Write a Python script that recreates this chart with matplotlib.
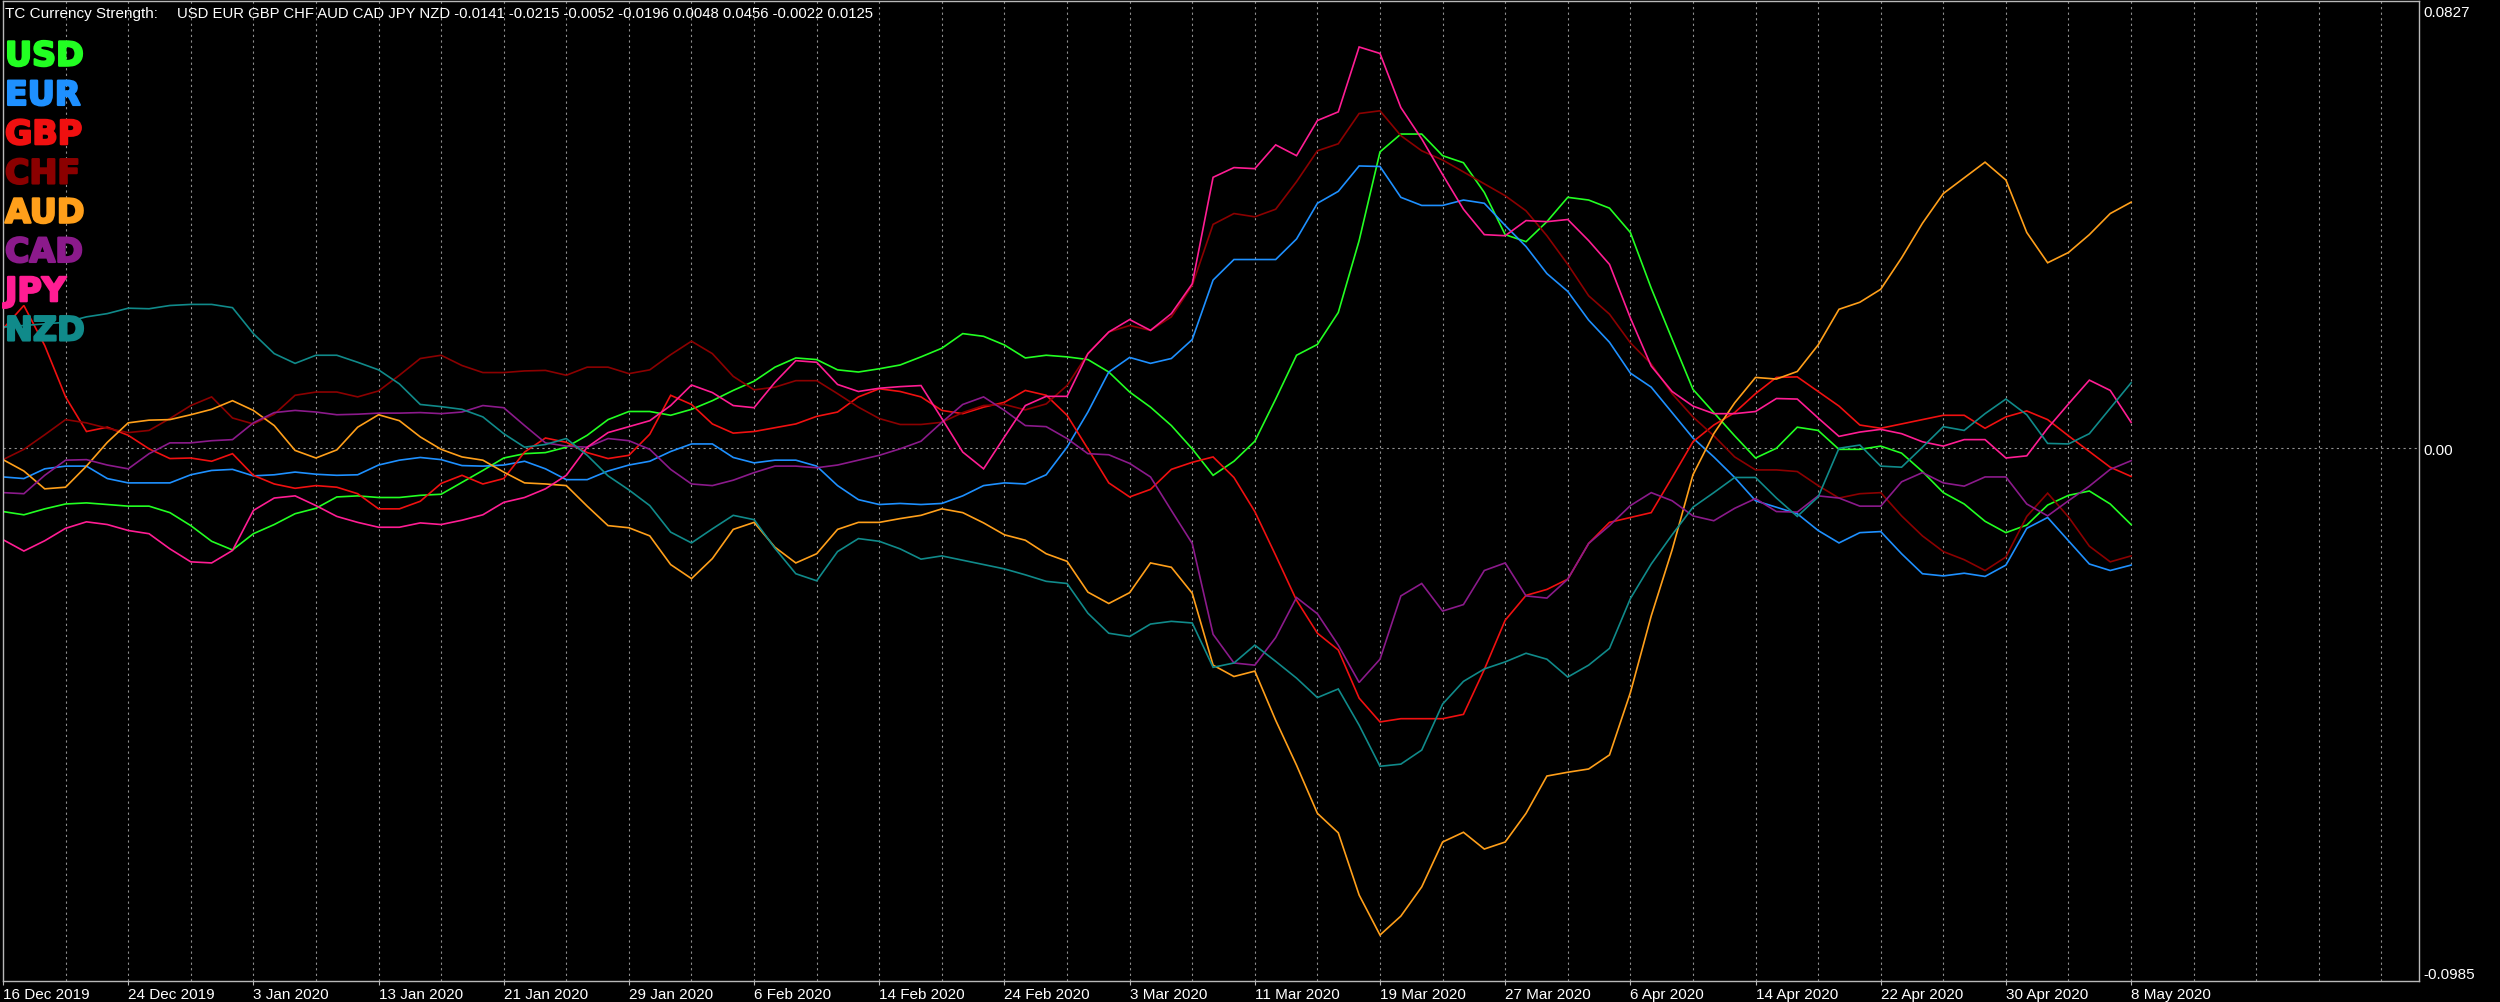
import numpy as np
import matplotlib.pyplot as plt
import matplotlib.patheffects as pe
from matplotlib.transforms import ScaledTranslation

# daily bars, 16 Dec 2019 .. 8 May 2020 (103 bars), label every 6th bar
date_labels = ["16 Dec 2019", "24 Dec 2019", "3 Jan 2020", "13 Jan 2020", "21 Jan 2020",
               "29 Jan 2020", "6 Feb 2020", "14 Feb 2020", "24 Feb 2020", "3 Mar 2020",
               "11 Mar 2020", "19 Mar 2020", "27 Mar 2020", "6 Apr 2020", "14 Apr 2020",
               "22 Apr 2020", "30 Apr 2020", "8 May 2020"]

currencies = ["USD", "EUR", "GBP", "CHF", "AUD", "CAD", "JPY", "NZD"]
colors = ["#22ff22", "#1e90ff", "#f01010", "#8b0000", "#ff9f1a", "#8b1a8b", "#ff1d93", "#108a8a"]

usd = [-0.0117, -0.0123, -0.0112, -0.0103, -0.0101, -0.0104, -0.0107, -0.0107, -0.0119, -0.0143,
       -0.0172, -0.0188, -0.0158, -0.0141, -0.0121, -0.0111, -0.0090, -0.0088, -0.0091, -0.0091,
       -0.0087, -0.0085, -0.0063, -0.0041, -0.0018, -0.0010, -0.0008, 0.0002, 0.0024, 0.0053,
       0.0068, 0.0068, 0.0061, 0.0072, 0.0088, 0.0107, 0.0124, 0.0150, 0.0167, 0.0164,
       0.0145, 0.0141, 0.0147, 0.0154, 0.0169, 0.0185, 0.0212, 0.0207, 0.0191, 0.0167,
       0.0172, 0.0169, 0.0164, 0.0141, 0.0104, 0.0076, 0.0042, -0.0001, -0.0050, -0.0024,
       0.0013, 0.0091, 0.0172, 0.0192, 0.0251, 0.0384, 0.0548, 0.0581, 0.0581, 0.0541,
       0.0528, 0.0473, 0.0395, 0.0382, 0.0419, 0.0464, 0.0459, 0.0444, 0.0399, 0.0296,
       0.0202, 0.0109, 0.0066, 0.0023, -0.0018, 0.0000, 0.0039, 0.0033, -0.0002, -0.0002,
       0.0004, -0.0009, -0.0043, -0.0082, -0.0103, -0.0135, -0.0156, -0.0142, -0.0105, -0.0087,
       -0.0079, -0.0103, -0.0141]

eur = [-0.0053, -0.0056, -0.0038, -0.0033, -0.0033, -0.0056, -0.0064, -0.0064, -0.0064, -0.0049,
       -0.0041, -0.0039, -0.0051, -0.0049, -0.0044, -0.0048, -0.0050, -0.0049, -0.0031, -0.0022,
       -0.0017, -0.0021, -0.0032, -0.0033, -0.0031, -0.0024, -0.0038, -0.0058, -0.0058, -0.0042,
       -0.0031, -0.0024, -0.0006, 0.0008, 0.0008, -0.0017, -0.0027, -0.0022, -0.0022, -0.0033,
       -0.0069, -0.0095, -0.0104, -0.0102, -0.0104, -0.0102, -0.0088, -0.0069, -0.0064, -0.0066,
       -0.0049, 0.0002, 0.0067, 0.0141, 0.0168, 0.0157, 0.0166, 0.0201, 0.0311, 0.0349,
       0.0349, 0.0349, 0.0387, 0.0453, 0.0475, 0.0522, 0.0521, 0.0464, 0.0449, 0.0449,
       0.0459, 0.0453, 0.0412, 0.0373, 0.0323, 0.0290, 0.0237, 0.0196, 0.0139, 0.0113,
       0.0066, 0.0019, -0.0016, -0.0054, -0.0097, -0.0109, -0.0121, -0.0152, -0.0175, -0.0156,
       -0.0154, -0.0195, -0.0232, -0.0236, -0.0231, -0.0237, -0.0216, -0.0148, -0.0128, -0.0171,
       -0.0214, -0.0226, -0.0216]

gbp = [0.0221, 0.0264, 0.0190, 0.0095, 0.0031, 0.0039, 0.0024, -0.0001, -0.0019, -0.0018,
       -0.0024, -0.0010, -0.0050, -0.0066, -0.0074, -0.0069, -0.0072, -0.0084, -0.0112, -0.0112,
       -0.0098, -0.0065, -0.0050, -0.0066, -0.0056, -0.0007, 0.0019, 0.0011, -0.0008, -0.0019,
       -0.0013, 0.0026, 0.0098, 0.0081, 0.0045, 0.0028, 0.0031, 0.0038, 0.0045, 0.0059,
       0.0067, 0.0095, 0.0110, 0.0105, 0.0095, 0.0070, 0.0064, 0.0076, 0.0085, 0.0107,
       0.0098, 0.0061, -0.0001, -0.0064, -0.0090, -0.0076, -0.0039, -0.0026, -0.0016, -0.0054,
       -0.0117, -0.0198, -0.0281, -0.0342, -0.0373, -0.0462, -0.0506, -0.0500, -0.0500, -0.0500,
       -0.0492, -0.0409, -0.0318, -0.0272, -0.0261, -0.0242, -0.0176, -0.0137, -0.0128, -0.0119,
       -0.0054, 0.0012, 0.0043, 0.0066, 0.0101, 0.0131, 0.0132, 0.0105, 0.0078, 0.0043,
       0.0037, 0.0045, 0.0053, 0.0061, 0.0061, 0.0037, 0.0058, 0.0069, 0.0053, 0.0023,
       -0.0006, -0.0035, -0.0052]

chf = [-0.0021, -0.0002, 0.0025, 0.0053, 0.0047, 0.0037, 0.0029, 0.0033, 0.0055, 0.0079,
       0.0095, 0.0056, 0.0045, 0.0063, 0.0098, 0.0104, 0.0104, 0.0095, 0.0106, 0.0135,
       0.0166, 0.0172, 0.0153, 0.0140, 0.0140, 0.0143, 0.0144, 0.0135, 0.0150, 0.0150,
       0.0138, 0.0145, 0.0173, 0.0198, 0.0175, 0.0133, 0.0108, 0.0113, 0.0125, 0.0125,
       0.0101, 0.0076, 0.0055, 0.0044, 0.0044, 0.0048, 0.0066, 0.0079, 0.0081, 0.0071,
       0.0082, 0.0116, 0.0175, 0.0215, 0.0227, 0.0218, 0.0243, 0.0301, 0.0414, 0.0434,
       0.0428, 0.0442, 0.0493, 0.0550, 0.0563, 0.0619, 0.0624, 0.0578, 0.0550, 0.0533,
       0.0511, 0.0489, 0.0467, 0.0439, 0.0393, 0.0340, 0.0282, 0.0248, 0.0195, 0.0156,
       0.0101, 0.0058, 0.0023, -0.0016, -0.0040, -0.0040, -0.0043, -0.0069, -0.0092, -0.0084,
       -0.0082, -0.0125, -0.0162, -0.0191, -0.0206, -0.0226, -0.0201, -0.0126, -0.0083, -0.0127,
       -0.0181, -0.0210, -0.0199]

aud = [-0.0021, -0.0042, -0.0075, -0.0072, -0.0033, 0.0011, 0.0047, 0.0052, 0.0053, 0.0062,
       0.0072, 0.0088, 0.0070, 0.0042, -0.0004, -0.0018, -0.0003, 0.0039, 0.0062, 0.0051,
       0.0021, -0.0002, -0.0016, -0.0022, -0.0044, -0.0064, -0.0066, -0.0069, -0.0107, -0.0143,
       -0.0147, -0.0162, -0.0215, -0.0241, -0.0204, -0.0150, -0.0137, -0.0183, -0.0212, -0.0195,
       -0.0150, -0.0137, -0.0137, -0.0130, -0.0124, -0.0112, -0.0119, -0.0138, -0.0160, -0.0170,
       -0.0195, -0.0209, -0.0266, -0.0287, -0.0267, -0.0212, -0.0220, -0.0268, -0.0401, -0.0422,
       -0.0412, -0.0503, -0.0586, -0.0675, -0.0711, -0.0826, -0.0900, -0.0865, -0.0811, -0.0728,
       -0.0710, -0.0741, -0.0728, -0.0675, -0.0606, -0.0599, -0.0593, -0.0567, -0.0452, -0.0310,
       -0.0188, -0.0049, 0.0027, 0.0084, 0.0131, 0.0128, 0.0142, 0.0191, 0.0257, 0.0270,
       0.0294, 0.0352, 0.0416, 0.0471, 0.0500, 0.0529, 0.0496, 0.0399, 0.0343, 0.0362,
       0.0395, 0.0434, 0.0455]

cad = [-0.0082, -0.0084, -0.0050, -0.0022, -0.0021, -0.0031, -0.0038, -0.0010, 0.0010, 0.0010,
       0.0014, 0.0016, 0.0047, 0.0066, 0.0070, 0.0067, 0.0062, 0.0063, 0.0065, 0.0065,
       0.0066, 0.0064, 0.0067, 0.0079, 0.0075, 0.0042, 0.0010, 0.0004, 0.0002, 0.0018,
       0.0014, -0.0002, -0.0039, -0.0066, -0.0069, -0.0059, -0.0045, -0.0033, -0.0033, -0.0036,
       -0.0031, -0.0022, -0.0013, -0.0001, 0.0013, 0.0048, 0.0081, 0.0095, 0.0070, 0.0042,
       0.0040, 0.0018, -0.0010, -0.0012, -0.0028, -0.0053, -0.0115, -0.0176, -0.0344, -0.0397,
       -0.0401, -0.0350, -0.0276, -0.0306, -0.0364, -0.0433, -0.0390, -0.0273, -0.0250, -0.0301,
       -0.0289, -0.0226, -0.0212, -0.0273, -0.0277, -0.0242, -0.0176, -0.0143, -0.0106, -0.0082,
       -0.0097, -0.0125, -0.0134, -0.0111, -0.0093, -0.0117, -0.0118, -0.0088, -0.0092, -0.0107,
       -0.0107, -0.0062, -0.0045, -0.0064, -0.0070, -0.0053, -0.0053, -0.0103, -0.0125, -0.0097,
       -0.0070, -0.0039, -0.0023]

jpy = [-0.0169, -0.0190, -0.0171, -0.0148, -0.0136, -0.0141, -0.0152, -0.0158, -0.0186, -0.0210,
       -0.0212, -0.0189, -0.0115, -0.0092, -0.0088, -0.0106, -0.0126, -0.0137, -0.0146, -0.0146,
       -0.0138, -0.0141, -0.0133, -0.0123, -0.0100, -0.0091, -0.0075, -0.0050, 0.0002, 0.0029,
       0.0040, 0.0051, 0.0079, 0.0117, 0.0103, 0.0079, 0.0075, 0.0122, 0.0162, 0.0159,
       0.0118, 0.0105, 0.0111, 0.0114, 0.0116, 0.0055, -0.0007, -0.0038, 0.0021, 0.0079,
       0.0096, 0.0096, 0.0175, 0.0215, 0.0238, 0.0218, 0.0249, 0.0304, 0.0501, 0.0519,
       0.0517, 0.0561, 0.0541, 0.0606, 0.0622, 0.0742, 0.0730, 0.0630, 0.0572, 0.0506,
       0.0442, 0.0395, 0.0393, 0.0421, 0.0419, 0.0423, 0.0384, 0.0340, 0.0241, 0.0152,
       0.0105, 0.0078, 0.0064, 0.0064, 0.0068, 0.0092, 0.0091, 0.0056, 0.0022, 0.0030,
       0.0035, 0.0027, 0.0012, 0.0004, 0.0016, 0.0016, -0.0018, -0.0014, 0.0037, 0.0082,
       0.0126, 0.0107, 0.0048]

nzd = [0.0224, 0.0227, 0.0230, 0.0233, 0.0243, 0.0249, 0.0259, 0.0258, 0.0264, 0.0266,
       0.0266, 0.0260, 0.0212, 0.0175, 0.0157, 0.0172, 0.0172, 0.0159, 0.0145, 0.0119,
       0.0081, 0.0077, 0.0072, 0.0058, 0.0027, 0.0002, 0.0007, 0.0018, -0.0013, -0.0051,
       -0.0077, -0.0106, -0.0155, -0.0175, -0.0149, -0.0124, -0.0132, -0.0185, -0.0232, -0.0245,
       -0.0191, -0.0167, -0.0172, -0.0186, -0.0205, -0.0199, -0.0207, -0.0215, -0.0223, -0.0234,
       -0.0246, -0.0250, -0.0305, -0.0342, -0.0348, -0.0325, -0.0320, -0.0323, -0.0405, -0.0397,
       -0.0364, -0.0394, -0.0425, -0.0461, -0.0445, -0.0512, -0.0588, -0.0584, -0.0558, -0.0473,
       -0.0431, -0.0408, -0.0395, -0.0379, -0.0390, -0.0423, -0.0401, -0.0370, -0.0278, -0.0214,
       -0.0160, -0.0109, -0.0082, -0.0054, -0.0054, -0.0092, -0.0126, -0.0090, 0.0000, 0.0006,
       -0.0033, -0.0035, 0.0002, 0.0040, 0.0033, 0.0064, 0.0091, 0.0062, 0.0009, 0.0008,
       0.0027, 0.0074, 0.0121]

header = "USD EUR GBP CHF AUD CAD JPY NZD -0.0141 -0.0215 -0.0052 -0.0196 0.0048 0.0456 -0.0022 0.0125"
y_max, y_min = 0.0827, -0.0985

series = [usd, eur, gbp, chf, aud, cad, jpy, nzd]
font = "Liberation Sans"
W, H = 2500, 1003

fig = plt.figure(figsize=(W / 100, H / 100), dpi=100, facecolor="black")
ax = fig.add_axes([3 / W, 21 / H, 2416 / W, 980 / H], facecolor="black")

bars = np.arange(len(usd))
for vals, c in zip(series, colors):
    ax.plot(bars, vals, color=c, lw=1.2, solid_joinstyle="miter")

ax.set_xlim(0, 115.8)
ax.set_ylim(y_min, y_max)

# dotted grid every 3 bars + zero line
grid_kw = dict(color="#8f8f8f", lw=0.8, ls=(0, (2, 3)), zorder=0)
for b in range(3, 116, 3):
    ax.axvline(b, **grid_kw)
ax.axhline(0, **grid_kw)

for s in ax.spines.values():
    s.set_color("#b8b8b8")
    s.set_linewidth(1)

# right price scale
ax.yaxis.tick_right()
ax.set_yticks([y_min, 0, y_max])
ax.set_yticklabels(["-0.0985", "0.00", "0.0827"])
ax.tick_params(axis="y", length=0, pad=3, colors="white", labelsize=11)
ylabs = ax.get_yticklabels()
ylabs[0].set_va("bottom")
ylabs[2].set_va("top")
ylabs[2].set_transform(ylabs[2].get_transform()
                       + ScaledTranslation(0, -3 / 72, fig.dpi_scale_trans))
for t in ylabs:
    t.set_fontfamily(font)

# date scale
ax.set_xticks(np.arange(0, 103, 6))
ax.set_xticklabels(date_labels, ha="left", fontfamily=font)
ax.tick_params(axis="x", length=3, width=0.8, color="#b8b8b8", pad=1,
               labelcolor="white", labelsize=11)

fig.text(5 / W, 1 - 18 / H, "TC Currency Strength:", color="white", fontsize=11,
         fontfamily=font, va="baseline")
fig.text(177 / W, 1 - 18 / H, header, color="white", fontsize=10.7,
         fontfamily=font, va="baseline")

for k, (name, c) in enumerate(zip(currencies, colors)):
    fig.text(5 / W, 1 - (66.7 + 39.25 * k) / H, name, color=c, fontsize=24,
             fontweight="bold", fontfamily="DejaVu Sans", va="baseline",
             path_effects=[pe.withStroke(linewidth=1.6, foreground=c)])

fig.savefig("out.png", dpi=100, facecolor="black")
